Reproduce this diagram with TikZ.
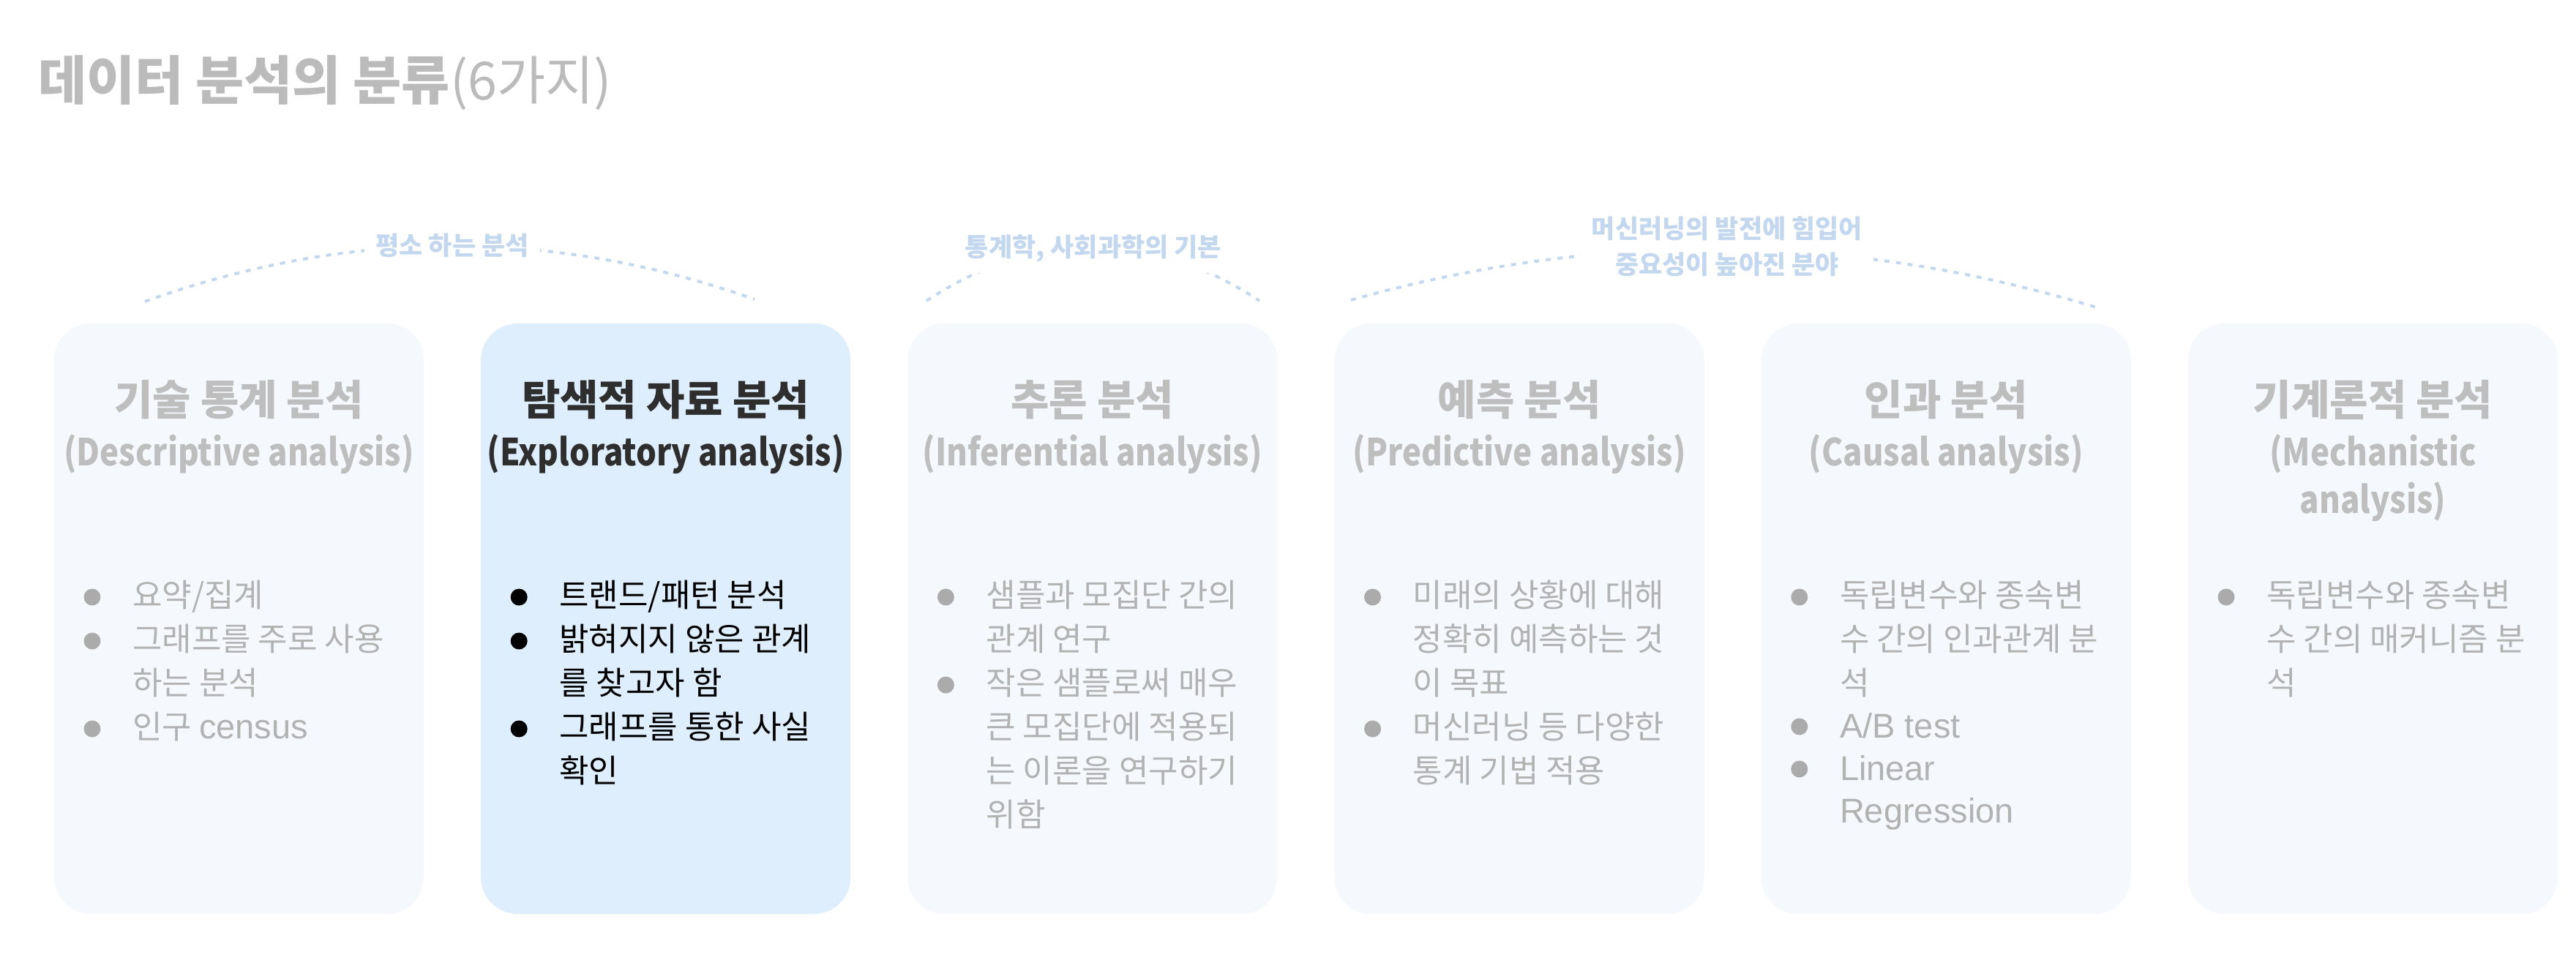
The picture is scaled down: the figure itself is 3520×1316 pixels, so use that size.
\documentclass[tikz,border=0pt]{standalone}
\usepackage{fontspec}
\newfontfamily\kr{Noto Sans CJK KR}
\newfontfamily\krn[FakeStretch=0.86]{Noto Sans CJK KR}
\newfontfamily\lat{Liberation Sans}
\newcommand\lt[1]{{\lat\fontsize{47}{60}\selectfont #1}}
\definecolor{boxbg}{HTML}{F5F9FE}
\definecolor{boxhi}{HTML}{DFEEFD}
\definecolor{headgray}{HTML}{BEBEBE}
\definecolor{bodygray}{HTML}{B2B2B2}
\definecolor{dotgray}{HTML}{ABABAB}
\definecolor{arcblue}{HTML}{C3D7EE}
\definecolor{titlegray}{HTML}{BBBBBB}
\definecolor{darkhead}{HTML}{2E2E2E}
\tikzset{
  card/.style={fill=boxbg, draw=none, rounded corners=50pt, minimum width=505pt, minimum height=807pt, inner sep=0},
  head/.style={anchor=base, inner sep=0, font=\kr\bfseries\fontsize{57}{60}\selectfont, text=headgray},
  sub/.style={anchor=base, inner sep=0, font=\krn\bfseries\fontsize{51}{60}\selectfont, text=headgray},
  body/.style={anchor=base west, inner sep=0, font=\kr\fontsize{44}{60}\selectfont, text=bodygray},
  dot/.style={circle, fill=dotgray, minimum size=23pt, inner sep=0},
  arcline/.style={arcblue, line width=4pt, dash pattern=on 7pt off 9pt},
  arclabel/.style={fill=white, inner sep=15pt, text=arcblue, font=\kr\bfseries\fontsize{35}{49}\selectfont, align=center},
}
\begin{document}
\begin{tikzpicture}[x=1pt,y=-1pt]
\useasboundingbox[fill=white] (0,0) rectangle (3520,1316);

% title
\node[anchor=base west, inner sep=0, text=titlegray, font=\kr\fontsize{72}{80}\selectfont] (title) at (52,137) {{\bfseries 데이터 분석의 분류}(6가지)};

% cards
\node[card] (c1) at (326.5,845.5) {};
\node[card, fill=boxhi] (c2) at (909.7,845.5) {};
\node[card] (c3) at (1492.9,845.5) {};
\node[card] (c4) at (2076.1,845.5) {};
\node[card] (c5) at (2659.3,845.5) {};
\node[card] (c6) at (3242.5,845.5) {};

% arcs
\coordinate (a1s) at (198,412); \coordinate (a1e) at (1031,409);
\coordinate (a2s) at (1266,411); \coordinate (a2e) at (1721,411);
\coordinate (a3s) at (1846,410); \coordinate (a3e) at (2868,421);
\draw[arcline] (a1s) .. controls (476,312) and (754,311) .. (a1e);
\draw[arcline] (a2s) .. controls (1418,312) and (1569,312) .. (a2e);
\draw[arcline] (a3s) .. controls (2187,314) and (2527,317) .. (a3e);
\node[arclabel, anchor=base] (l1) at (618,348) {평소 하는 분석};
\node[arclabel, anchor=base] (l2) at (1494,350) {통계학, 사회과학의 기본};
\node[arclabel] (l3) at (2360,336.5) {머신러닝의 발전에 힘입어\\중요성이 높아진 분야};

% headings
\node[head] (h1) at (326.5,567) {기술 통계 분석};
\node[sub] (s1) at (326.5,636) {(Descriptive analysis)};
\node[head, text=darkhead] (h2) at (909.7,567) {탐색적 자료 분석};
\node[sub, text=darkhead] (s2) at (909.7,636) {(Exploratory analysis)};
\node[head] (h3) at (1492.9,567) {추론 분석};
\node[sub] (s3) at (1492.9,636) {(Inferential analysis)};
\node[head] (h4) at (2076.1,567) {예측 분석};
\node[sub] (s4) at (2076.1,636) {(Predictive analysis)};
\node[head] (h5) at (2659.3,567) {인과 분석};
\node[sub] (s5) at (2659.3,636) {(Causal analysis)};
\node[head] (h6) at (3242.5,567) {기계론적 분석};
\node[sub] (s6) at (3242.5,636) {(Mechanistic};
\node[sub] (s6b) at (3242.5,701) {analysis)};

% card 1
\node[dot] (d11) at (126,816) {};
\node[body] (t11) at (181,829) {요약/집계};
\node[dot] (d12) at (126,876) {};
\node[body] (t12) at (181,889) {그래프를 주로 사용};
\node[body] (t13) at (181,949) {하는 분석};
\node[dot] (d13) at (126,996) {};
\node[body] (t14) at (181,1009) {인구 \lt{census}};

% card 2
\node[dot, fill=black] (d21) at (709.2,816) {};
\node[body, text=black] (t21) at (764.2,829) {트랜드/패턴 분석};
\node[dot, fill=black] (d22) at (709.2,876) {};
\node[body, text=black] (t22) at (764.2,889) {밝혀지지 않은 관계};
\node[body, text=black] (t23) at (764.2,949) {를 찾고자 함};
\node[dot, fill=black] (d23) at (709.2,996) {};
\node[body, text=black] (t24) at (764.2,1009) {그래프를 통한 사실};
\node[body, text=black] (t25) at (764.2,1069) {확인};

% card 3
\node[dot] (d31) at (1292.4,816) {};
\node[body] (t31) at (1347.4,829) {샘플과 모집단 간의};
\node[body] (t32) at (1347.4,889) {관계 연구};
\node[dot] (d32) at (1292.4,936) {};
\node[body] (t33) at (1347.4,949) {작은 샘플로써 매우};
\node[body] (t34) at (1347.4,1009) {큰 모집단에 적용되};
\node[body] (t35) at (1347.4,1069) {는 이론을 연구하기};
\node[body] (t36) at (1347.4,1129) {위함};

% card 4
\node[dot] (d41) at (1875.6,816) {};
\node[body] (t41) at (1930.6,829) {미래의 상황에 대해};
\node[body] (t42) at (1930.6,889) {정확히 예측하는 것};
\node[body] (t43) at (1930.6,949) {이 목표};
\node[dot] (d42) at (1875.6,996) {};
\node[body] (t44) at (1930.6,1009) {머신러닝 등 다양한};
\node[body] (t45) at (1930.6,1069) {통계 기법 적용};

% card 5
\node[dot] (d51) at (2458.8,816) {};
\node[body] (t51) at (2513.8,829) {독립변수와 종속변};
\node[body] (t52) at (2513.8,889) {수 간의 인과관계 분};
\node[body] (t53) at (2513.8,949) {석};
\node[dot] (d52) at (2458.8,993) {};
\node[body] (t54) at (2513.8,1008) {\lt{A/B test}};
\node[dot] (d53) at (2458.8,1051) {};
\node[body] (t55) at (2513.8,1066) {\lt{Linear}};
\node[body] (t56) at (2513.8,1124) {\lt{Regression}};

% card 6
\node[dot] (d61) at (3042,816) {};
\node[body] (t61) at (3097,829) {독립변수와 종속변};
\node[body] (t62) at (3097,889) {수 간의 매커니즘 분};
\node[body] (t63) at (3097,949) {석};
\end{tikzpicture}
\end{document}
